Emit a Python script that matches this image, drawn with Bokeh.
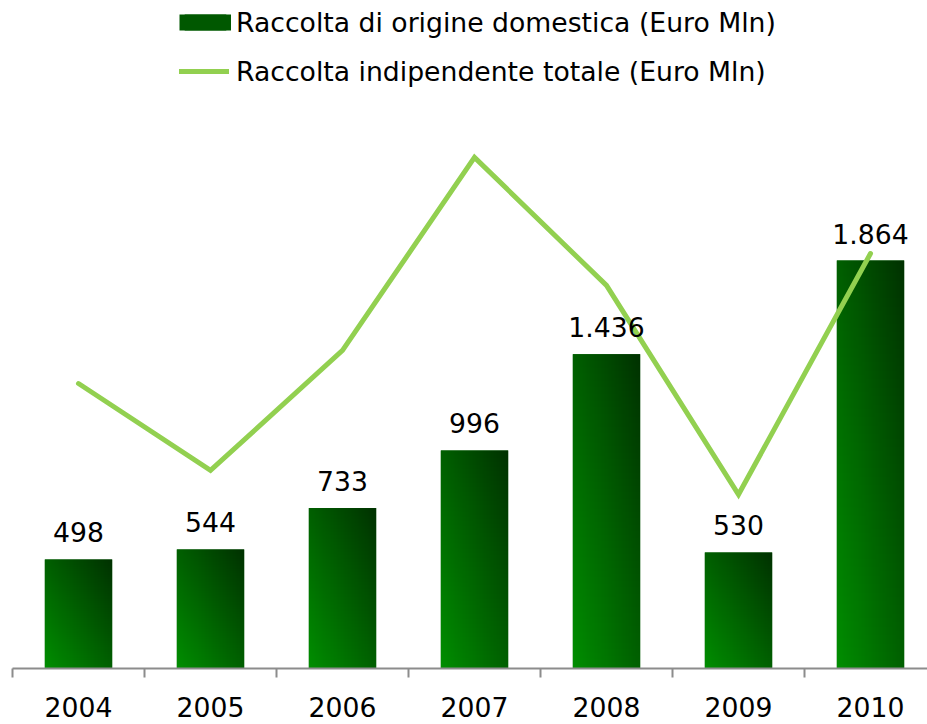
import numpy as np
from bokeh.plotting import figure
from bokeh.models import FixedTicker, Legend, LegendItem, ColumnDataSource
from bokeh.core.properties import value
from bokeh.embed import file_html
from bokeh.resources import INLINE

# ---- data ----
years = ["2004", "2005", "2006", "2007", "2008", "2009", "2010"]
domestica = [498, 544, 733, 996, 1436, 530, 1864]
indipendente = [1302, 905, 1453, 2335, 1750, 795, 1896]
label_dom = "Raccolta di origine domestica (Euro Mln)"
label_ind = "Raccolta indipendente totale (Euro Mln)"

FONT = "DejaVu Sans"
FS = "26.67px"
BAR_W = 0.51
PX_PER_UNIT = 0.21888

xs = list(range(len(years)))

FRAME_W = 915
FRAME_H = 668
p = figure(width=927, height=724, output_backend="svg", toolbar_location=None,
           x_range=(-0.5, -0.5 + FRAME_W / 132), y_range=(0, FRAME_H / PX_PER_UNIT),
           y_axis_location=None, min_border_left=12, min_border_right=0,
           min_border_top=0, min_border_bottom=56)
p.outline_line_color = None
p.grid.visible = False
p.background_fill_color = "white"

src = ColumnDataSource(dict(x=xs, top=domestica,
                            lab=[f"{v:,}".replace(",", ".") for v in domestica],
                            ind=indipendente))
bars = p.vbar(x="x", top="top", width=BAR_W, source=src, fill_color="#005c00", line_color=None)

# gradient overlay for each bar (bottom-left bright -> top-right dark)
H, W = 96, 48
c0 = np.array([0, 142, 0], dtype=float)
c1 = np.array([0, 50, 0], dtype=float)
for xi, v in zip(xs, domestica):
    u = np.linspace(0, 1, W)[None, :]
    vv = np.linspace(0, 1, H)[:, None]
    t = (u + vv) / 2.0
    img = np.zeros((H, W), dtype=np.uint32)
    view = img.view(dtype=np.uint8).reshape((H, W, 4))
    for k in range(3):
        view[:, :, k] = (c0[k] + (c1[k] - c0[k]) * t).astype(np.uint8)
    view[:, :, 3] = 255
    p.image_rgba(image=[img], x=xi - BAR_W / 2, y=0, dw=BAR_W, dh=v)

line = p.line(x="x", y="ind", source=src, line_color="#92d050", line_width=5,
              line_join="miter", line_cap="round")

# legend swatch for the bars (full-width block); draws nothing in the plot
swatch = p.line(x=[float("nan")], y=[float("nan")], line_color="#005800",
                line_width=16, line_cap="butt")

p.text(x="x", y="top", text="lab", source=src, text_align="center",
       text_baseline="alphabetic", y_offset=-27, text_font=value(FONT),
       text_font_size=FS, text_color="#000000")

ax = p.xaxis[0]
ax.ticker = FixedTicker(ticks=xs, minor_ticks=[i - 0.5 for i in range(len(years) + 1)])
ax.major_label_overrides = {i: y for i, y in enumerate(years)}
ax.major_tick_out = 0
ax.major_tick_in = 0
ax.minor_tick_out = 9
ax.minor_tick_in = 0
ax.minor_tick_line_color = "#8c8c8c"
ax.minor_tick_line_width = 2
ax.axis_line_color = "#8c8c8c"
ax.axis_line_width = 2
ax.major_label_text_font = FONT
ax.major_label_text_font_size = FS
ax.major_label_text_color = "#000000"
ax.major_label_standoff = 19

common = dict(orientation="vertical", background_fill_alpha=0, border_line_alpha=0,
              padding=0, margin=0, label_height=32, label_text_font=FONT,
              label_text_font_size=FS, label_text_color="#000000")
leg1 = Legend(items=[LegendItem(label=label_dom, renderers=[bars, swatch])],
              location=(167, 630), glyph_width=52, glyph_height=20,
              label_standoff=5, **common)
leg2 = Legend(items=[LegendItem(label=label_ind, renderers=[line])],
              location=(167, 581), glyph_width=50, glyph_height=16,
              label_standoff=7, **common)
p.add_layout(leg1)
p.add_layout(leg2)

open("out.html", "w").write(file_html(p, INLINE))
